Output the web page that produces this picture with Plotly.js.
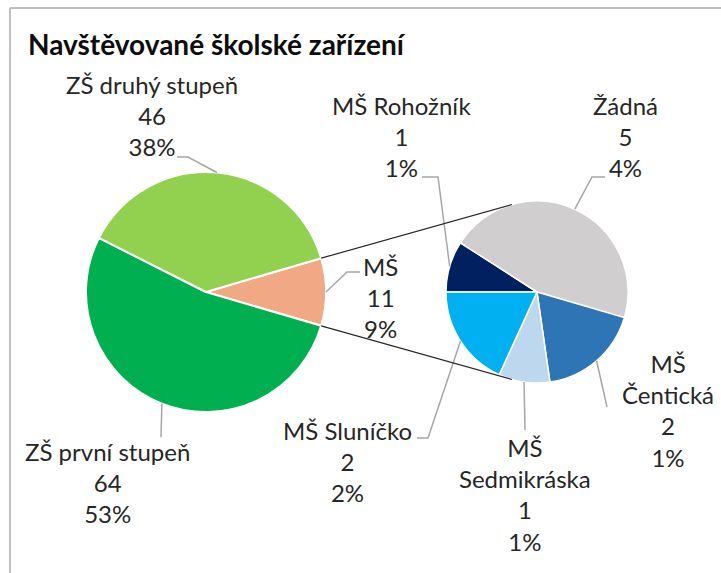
<!DOCTYPE html>
<html>
<head>
<meta charset="utf-8">
<script src="https://cdn.plot.ly/plotly-3.0.1.min.js"></script>
<style>html,body{margin:0;padding:0;background:#fff}#chart{width:721px;height:573px}</style>
</head>
<body>
<div id="chart"></div>
<script>
// ---- data ----
const chartTitle = 'Navštěvované školské zařízení';
const mainLabels = ['MŠ', 'ZŠ první stupeň', 'ZŠ druhý stupeň'];
const mainValues = [11, 64, 46];
const mainPct = ['9%', '53%', '38%'];
const subLabels = ['MŠ Rohožník', 'Žádná', 'MŠ Čentická', 'MŠ Sedmikráska', 'MŠ Sluníčko'];
const subValues = [1, 5, 2, 1, 2];
const subPct = ['1%', '4%', '1%', '1%', '2%'];
const mainColors = ['#F1A985', '#00B050', '#92D050'];
const subColors = ['#002060', '#D0CECE', '#2E75B6', '#BDD7EE', '#00B0F0'];

// ---- layout geometry (pixels) ----
const W = 721, H = 573;
const mainG = {cx: 206, cy: 292, r: 120};
const subG = {cx: 537, cy: 292, r: 91};
const subTangent = 16; // degrees from vertical where connector lines meet the second pie
const fs = 24;
const mainLab = [
  {pos: [380, 297], text: 'MŠ', bends: [[347, 272], [360, 272]]},
  {pos: [108, 482], text: 'ZŠ první stupeň', bends: [[161, 437]]},
  {pos: [152, 115.5], text: 'ZŠ druhý stupeň', bends: [[188, 157], [177, 157]]}
];
const subLab = [
  {pos: [401, 137], text: 'MŠ Rohožník', bends: [[438, 177], [422, 177]]},
  {pos: [625, 137], text: 'Žádná', bends: [[592, 177], [605, 177]]},
  {pos: [668, 410], text: 'MŠ<br>Čentická', bends: [[607, 407]]},
  {pos: [525, 494], text: 'MŠ<br>Sedmikráska', bends: [[525, 430]]},
  {pos: [347, 461], text: 'MŠ Sluníčko', bends: [[428, 438], [417, 438]]}
];

const X = x => x / W, Y = y => 1 - y / H;
function dom(g) {
  return {x: [X(g.cx - g.r), X(g.cx + g.r)], y: [Y(g.cy + g.r), Y(g.cy - g.r)]};
}
function pt(g, deg, rr) {
  const a = deg * Math.PI / 180; const r = rr === undefined ? g.r : rr;
  return [g.cx + r * Math.sin(a), g.cy - r * Math.cos(a)];
}
const sum = a => a.reduce((s, v) => s + v, 0);
const mainTotal = sum(mainValues), subTotal = sum(subValues);
const mainRot = 90 - 180 * mainValues[0] / mainTotal;
const subRot = 270;

function midAngles(vals, rot) {
  const tot = sum(vals); let acc = rot; const out = [];
  vals.forEach(v => { const d = 360 * v / tot; out.push(acc + d / 2); acc += d; });
  return out;
}
const mainMid = midAngles(mainValues, mainRot);
const subMid = midAngles(subValues, subRot);

const traces = [
  {type: 'pie', labels: mainLabels, values: mainValues, sort: false, direction: 'clockwise',
   rotation: mainRot, domain: dom(mainG), textinfo: 'none', hoverinfo: 'none',
   marker: {colors: mainColors, line: {color: '#ffffff', width: 2}}, showlegend: false},
  {type: 'pie', labels: subLabels, values: subValues, sort: false, direction: 'clockwise',
   rotation: subRot, domain: dom(subG), textinfo: 'none', hoverinfo: 'none',
   marker: {colors: subColors, line: {color: '#ffffff', width: 1.5}}, showlegend: false}
];

const shapes = [];
const annotations = [];
function pathOf(points) {
  return points.map((p, i) => (i ? 'L' : 'M') + X(p[0]).toFixed(5) + ',' + Y(p[1]).toFixed(5)).join(' ');
}
function addLabels(cfg, names, vals, pct, mids, g) {
  cfg.forEach((c, i) => {
    const start = pt(g, mids[i]);
    shapes.push({type: 'path', xref: 'paper', yref: 'paper', path: pathOf([start].concat(c.bends)),
      line: {color: '#A6A6A6', width: 1.5}});
    annotations.push({xref: 'paper', yref: 'paper', x: X(c.pos[0]), y: Y(c.pos[1]),
      xanchor: 'center', yanchor: 'middle', showarrow: false, align: 'center',
      text: c.text + '<br>' + vals[i] + '<br>' + pct[i],
      font: {family: 'Lato, Carlito, sans-serif', size: fs, color: '#262626'}});
  });
}
addLabels(mainLab, mainLabels, mainValues, mainPct, mainMid, mainG);
addLabels(subLab, subLabels, subValues, subPct, subMid, subG);

// connector lines from the MŠ slice edges to the second pie
const msStart = mainRot, msEnd = mainRot + 360 * mainValues[0] / mainTotal;
shapes.push({type: 'line', xref: 'paper', yref: 'paper',
  x0: X(pt(mainG, msStart)[0]), y0: Y(pt(mainG, msStart)[1]),
  x1: X(pt(subG, -subTangent)[0]), y1: Y(pt(subG, -subTangent)[1]),
  line: {color: '#262626', width: 1.2}});
shapes.push({type: 'line', xref: 'paper', yref: 'paper',
  x0: X(pt(mainG, msEnd)[0]), y0: Y(pt(mainG, msEnd)[1]),
  x1: X(pt(subG, 180 + subTangent)[0]), y1: Y(pt(subG, 180 + subTangent)[1]),
  line: {color: '#262626', width: 1.2}});

// chart area border (top and left visible)
shapes.push({type: 'line', xref: 'paper', yref: 'paper', x0: X(10), y0: Y(8), x1: X(730), y1: Y(8),
  line: {color: '#BFBFBF', width: 2}});
shapes.push({type: 'line', xref: 'paper', yref: 'paper', x0: X(10), y0: Y(8), x1: X(10), y1: Y(580),
  line: {color: '#BFBFBF', width: 2}});

const layout = {
  width: W, height: H, margin: {l: 0, r: 0, t: 0, b: 0},
  paper_bgcolor: '#ffffff', plot_bgcolor: '#ffffff',
  title: {text: '<b>' + chartTitle + '</b>', x: X(28), xanchor: 'left', xref: 'paper',
    y: Y(45), yanchor: 'middle', yref: 'paper',
    font: {family: 'Lato, Carlito, sans-serif', size: 28, color: '#0d0d0d'}},
  shapes: shapes, annotations: annotations, showlegend: false
};
Plotly.newPlot('chart', traces, layout, {displayModeBar: false, staticPlot: true});
</script>
</body>
</html>
